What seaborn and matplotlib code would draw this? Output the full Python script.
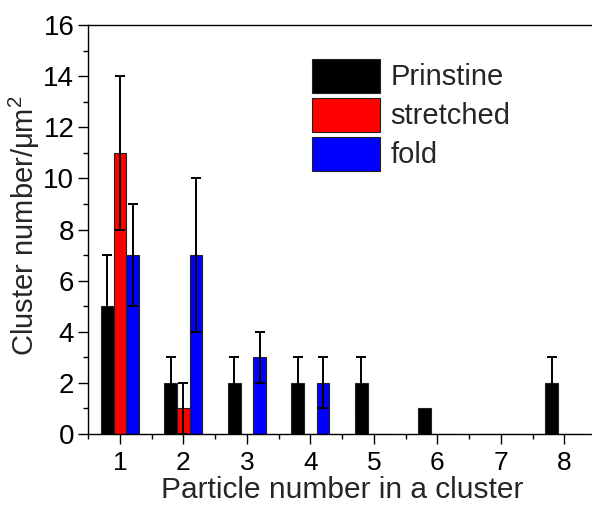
import numpy as np
import pandas as pd
import matplotlib
matplotlib.use("Agg")
import matplotlib.pyplot as plt
from matplotlib.ticker import MultipleLocator, FixedLocator
import seaborn as sns

# Cluster densities by number of particles per cluster
sizes = ["1", "2", "3", "4", "5", "6", "7", "8"]
series = ["Prinstine", "stretched", "fold"]
prinstine = [5, 2, 2, 2, 2, 1, 0, 2]
prinstine_err = [2, 1, 1, 1, 1, 0, 0, 1]
stretched = [11, 1, 0, 0, 0, 0, 0, 0]
stretched_err = [3, 1, 0, 0, 0, 0, 0, 0]
fold = [7, 7, 3, 2, 0, 0, 0, 0]
fold_err = [2, 3, 1, 1, 0, 0, 0, 0]
colors = ["#000000", "#ff0000", "#0000ff"]

errors = {"Prinstine": prinstine_err, "stretched": stretched_err, "fold": fold_err}

df = pd.DataFrame({
    "size": sizes * len(series),
    "group": np.repeat(series, len(sizes)),
    "density": prinstine + stretched + fold,
})

sns.set_style("ticks")
plt.rcParams["font.family"] = ["Liberation Sans", "DejaVu Sans"]
plt.rcParams["mathtext.default"] = "regular"

fig = plt.figure(figsize=(5.92, 5.08), dpi=100)
ax = fig.add_axes([0.149, 0.1457, 0.858, 0.805])

sns.barplot(data=df, x="size", y="density", hue="group", order=sizes,
            hue_order=series, palette=colors, saturation=1, width=0.6,
            errorbar=None, edgecolor="#222222", linewidth=0.8, ax=ax)

# symmetric error bars on top of every bar
for container, name in zip(ax.containers, series):
    for bar, err in zip(container, errors[name]):
        if err <= 0:
            continue
        xc = bar.get_x() + bar.get_width() / 2
        ax.errorbar(xc, bar.get_height(), yerr=err, fmt="none", ecolor="black",
                    elinewidth=1.4, capsize=3.8, capthick=1.4, zorder=5)

ax.set_xlim(-0.5, 7.5)
ax.set_ylim(0, 16)
ax.yaxis.set_major_locator(MultipleLocator(2))
ax.yaxis.set_minor_locator(MultipleLocator(1))
ax.xaxis.set_minor_locator(FixedLocator(np.arange(-0.5, 8, 1.0)))

ax.tick_params(which="major", direction="out", length=7, width=1,
               color="black", labelcolor="black")
ax.tick_params(which="minor", direction="out", length=3.5, width=1, color="black")
ax.tick_params(axis="y", which="major", labelsize=20, pad=3)
ax.tick_params(axis="x", which="major", labelsize=19, pad=5)
for s in ax.spines.values():
    s.set_linewidth(1)
    s.set_color("black")

ax.set_xlabel("Particle number in a cluster", fontsize=21.5, labelpad=1)
ax.set_ylabel("Cluster number/\u03bcm$^2$", fontsize=21)
ax.yaxis.set_label_coords(-0.09, 0.51)

handles, labels = ax.get_legend_handles_labels()
ax.legend(handles=handles, labels=labels, loc="upper left",
          bbox_to_anchor=(0.441, 0.918), frameon=False, fontsize=21,
          handlelength=2.34, handleheight=1.42, labelspacing=0.17,
          handletextpad=0.34, borderpad=0, borderaxespad=0)

fig.savefig("out.png", dpi=100)
